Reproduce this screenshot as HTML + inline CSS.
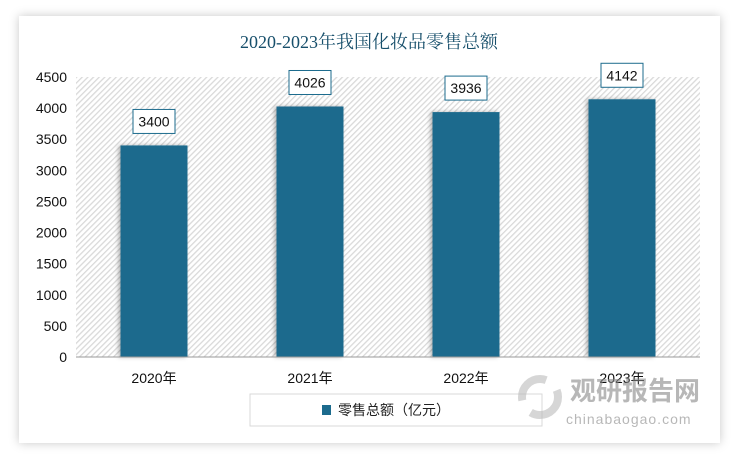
<!DOCTYPE html>
<html><head><meta charset="utf-8"><style>
body{margin:0;width:738px;height:458px;background:#fff;overflow:hidden;font-family:"Liberation Sans","Noto Sans CJK SC",sans-serif}
</style></head><body>
<svg width="738" height="458" xmlns="http://www.w3.org/2000/svg">
<defs>
<pattern id="hatch" width="4" height="4" patternUnits="userSpaceOnUse" patternTransform="rotate(45)">
<rect width="4" height="4" fill="#fff"/><rect width="1.3" height="4" fill="#d9d9d9"/></pattern>
<filter id="sh" x="-20%" y="-20%" width="140%" height="140%"><feDropShadow dx="0" dy="0" stdDeviation="5" flood-color="#000" flood-opacity="0.22"/></filter>
<filter id="bs" x="-20%" y="-20%" width="140%" height="140%"><feDropShadow dx="-2" dy="0" stdDeviation="2" flood-color="#000" flood-opacity="0.3"/></filter>
</defs>
<rect x="0" y="0" width="738" height="458" fill="#fff"/>
<rect x="19" y="16" width="701" height="427" fill="#fff" filter="url(#sh)"/>
<text x="369" y="48" text-anchor="middle" font-family="Liberation Serif,Noto Serif CJK SC,serif" font-size="18" fill="#174f6b">2020-2023年我国化妆品零售总额</text>
<rect x="76" y="77" width="624" height="280" fill="url(#hatch)"/>
<g id="yax"></g>
<g id="bars"></g>
<line x1="76" y1="357" x2="700" y2="357" stroke="#999" stroke-width="1"/>
<g id="xax"></g>
<rect x="250" y="394" width="292" height="32" fill="#fff" stroke="#d9d9d9"/>
<rect x="322" y="405" width="9" height="10" fill="#1c6b8d"/>
<text x="338" y="415" font-size="14" fill="#222">零售总额（亿元）</text>
<g opacity="0.6">
<circle cx="540" cy="397" r="18" fill="none" stroke="#bbb" stroke-width="8" stroke-dasharray="38 15"/>
<text x="570" y="400" font-size="26" font-weight="bold" fill="#888">观研报告网</text>
<text x="566" y="424" font-size="14" fill="#888" letter-spacing="1">chinabaogao.com</text>
</g>
</svg>
<script>
const categories=["2020年","2021年","2022年","2023年"];
const values=[3400,4026,3936,4142];
const yTicks=[0,500,1000,1500,2000,2500,3000,3500,4000,4500];
const ns="http://www.w3.org/2000/svg";
const X0=76,W=624,Y0=357,H=280,YMAX=4500;
const y=v=>Y0-v/YMAX*H;
const xc=i=>X0+W/categories.length*(i+0.5);
function mk(t,a,p){const e=document.createElementNS(ns,t);for(const k in a)e.setAttribute(k,a[k]);p.appendChild(e);return e;}
const yax=document.getElementById('yax'),bars=document.getElementById('bars'),xax=document.getElementById('xax');
yTicks.forEach(v=>{const t=mk('text',{x:67,y:y(v)+5,'text-anchor':'end','font-size':14,fill:'#111'},yax);t.textContent=v;

});
categories.forEach((c,i)=>{
const bw=67,cx=xc(i);
const r=mk('rect',{x:cx-bw/2,y:y(values[i]),width:bw,height:Y0-y(values[i]),fill:'#1c6b8d',filter:'url(#bs)'},bars);


const ly=y(values[i])-36;
const b=mk('rect',{x:cx-21,y:ly,width:42,height:24,fill:'#fff',stroke:'#1c6b8d','stroke-width':1},bars);


const t=mk('text',{x:cx,y:ly+17,'text-anchor':'middle','font-size':14,fill:'#111'},bars);t.textContent=values[i];


const xl=mk('text',{x:cx,y:383,'text-anchor':'middle','font-size':14,fill:'#111'},xax);xl.textContent=c;


});
</script>
</body></html>
